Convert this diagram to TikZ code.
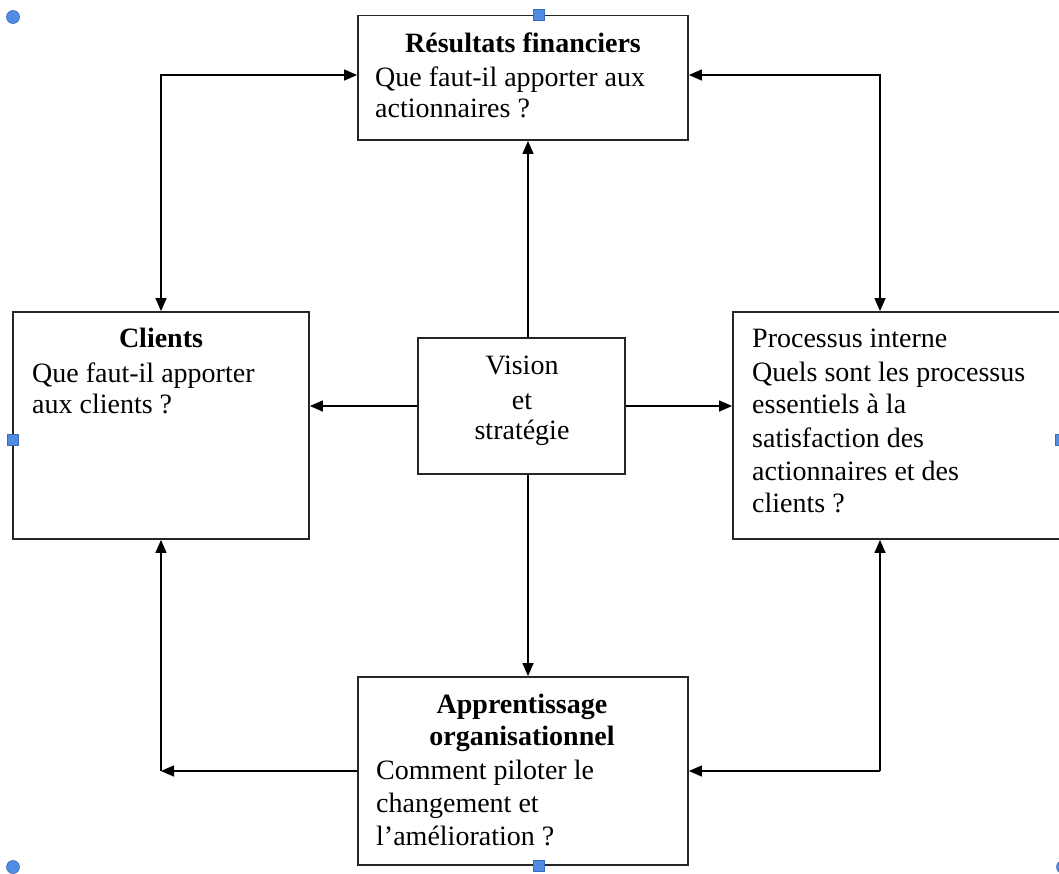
\documentclass[tikz,border=0pt]{standalone}
\usepackage{fontspec}
\setmainfont{Liberation Serif}
\usetikzlibrary{arrows.meta}
\definecolor{handle}{RGB}{80,140,226}
\definecolor{handleline}{RGB}{58,108,188}
\begin{document}
\begin{tikzpicture}[x=1pt,y=-1pt,
  box/.style={draw=black!85, line width=1.8pt, fill=white, inner sep=0pt},
  txt/.style={inner sep=0pt, font=\fontsize{28}{33}\selectfont},
  head/.style={inner sep=0pt, font=\fontsize{28}{33}\selectfont\bfseries},
  tip/.style={Triangle[length=13pt,width=11pt]},
  link/.style={line width=1.3pt, -{Triangle[length=13pt,width=11pt]}},
  twoway/.style={line width=1.3pt, {Triangle[length=13pt,width=11pt]}-{Triangle[length=13pt,width=11pt]}},
  dot/.style={circle, fill=handle, draw=handleline, line width=0.6pt, minimum size=13pt, inner sep=0pt},
  sq/.style={rectangle, fill=handle, draw=handleline, line width=0.6pt, minimum size=11pt, inner sep=0pt}]
\useasboundingbox (0,0) rectangle (1059,873);

% boxes
\node[box, minimum width=330pt, minimum height=124.5pt] (fin)    at (523,77.75) {};
\node[box, minimum width=296pt, minimum height=227pt]   (cli)    at (161,425.5) {};
\node[box, minimum width=329pt, minimum height=227pt]   (proc)   at (897.5,425.5) {};
\node[box, minimum width=207pt, minimum height=136pt]   (vis)    at (521.5,406) {};
\node[box, minimum width=330pt, minimum height=188pt]   (learn)  at (523,771) {};

% texts
\node[head, anchor=base] (finT)  at (523,52) {Résultats financiers};
\node[txt, anchor=base west] (finA) at (375,86) {Que faut-il apporter aux};
\node[txt, anchor=base west] (finB) at (375,117) {actionnaires ?};

\node[head, anchor=base] (cliT)  at (161,347) {Clients};
\node[txt, anchor=base west] (cliA) at (32,382) {Que faut-il apporter};
\node[txt, anchor=base west] (cliB) at (32,413) {aux clients ?};

\node[txt, anchor=base west] (procT) at (752,347) {Processus interne};
\node[txt, anchor=base west] (procA) at (752,381) {Quels sont les processus};
\node[txt, anchor=base west] (procB) at (752,413) {essentiels à la};
\node[txt, anchor=base west] (procC) at (752,447) {satisfaction des};
\node[txt, anchor=base west] (procD) at (752,480) {actionnaires et des};
\node[txt, anchor=base west] (procE) at (752,512) {clients ?};

\node[txt, anchor=base] (visA) at (522,374) {Vision};
\node[txt, anchor=base] (visB) at (522,409) {et};
\node[txt, anchor=base] (visC) at (522,439) {stratégie};

\node[head, anchor=base] (learnT) at (522,713) {Apprentissage};
\node[head, anchor=base] (learnU) at (522,745) {organisationnel};
\node[txt, anchor=base west] (learnA) at (376,779) {Comment piloter le};
\node[txt, anchor=base west] (learnB) at (376,812) {changement et};
\node[txt, anchor=base west] (learnC) at (376,845) {l’amélioration ?};

% elbow points of the outer loop
\coordinate (tl) at (161,75);
\coordinate (tr) at (880,75);
\coordinate (bl) at (161,771);
\coordinate (br) at (880,771);
\coordinate (vx) at (528,0);

% connectors from the centre
\draw[link] (vis.north -| vx) -- (fin.south -| vx);
\draw[link] (vis.south -| vx) -- (learn.north -| vx);
\draw[link] (vis.west) -- (cli.east |- vis.west);
\draw[link] (vis.east) -- (proc.west |- vis.east);

% outer loop
\draw[twoway] (fin.west |- tl) -- (tl) -- (cli.north);
\draw[twoway] (fin.east |- tr) -- (tr) -- (tr |- proc.north);
\draw[link] (learn.west) -- (bl);
\draw[link] (bl) -- (cli.south);
\draw[link] (br) -- (learn.east);
\draw[link] (br) -- (br |- proc.south);

% selection handles
\node[dot] (h1) at (13,17) {};
\node[dot] (h2) at (13,867) {};
\node[dot] (h3) at (1063,867) {};
\node[sq] (h4) at (539,15) {};
\node[sq] (h5) at (13,440) {};
\node[sq] (h6) at (1061,440) {};
\node[sq] (h7) at (539,866) {};
\end{tikzpicture}
\end{document}
